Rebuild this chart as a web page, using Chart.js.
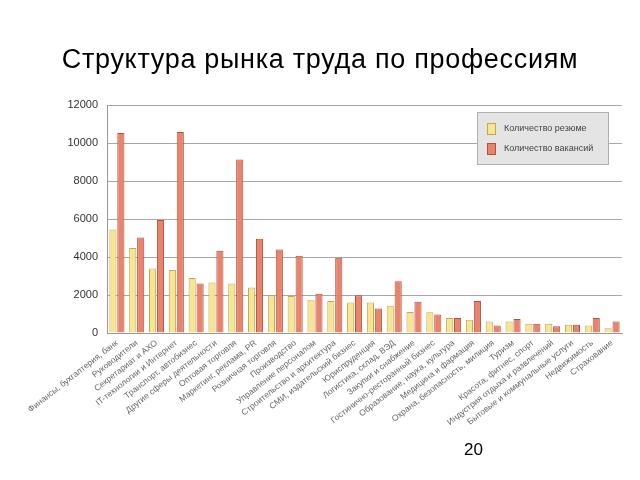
<!DOCTYPE html>
<html>
<head>
<meta charset="utf-8">
<script src="https://cdn.jsdelivr.net/npm/chart.js@4"></script>
<style>
  body { margin: 0; background: #fff; }
  #wrap { position: relative; width: 640px; height: 480px; }
  #title { position: absolute; left: 0; top: 46px; width: 640px; text-align: center;
           font: 27px/27px "Liberation Sans", Arial, sans-serif; letter-spacing: 0.7px; color: #000; }
  #pageNo { position: absolute; left: 464px; top: 441px; font: 17px/17px "Liberation Sans", Arial, sans-serif; color: #000; }
</style>
</head>
<body>
<div id="wrap">
  <canvas id="chart" width="640" height="480"></canvas>
  <div id="title">Структура рынка труда по профессиям</div>
  <div id="pageNo">20</div>
</div>
<script>
// профессии
var categories = [
    'Финансы, бухгалтерия, банк', 'Руководители', 'Секретариат и АХО', 'IT-технологии и Интернет',
    'Транспорт, автобизнес', 'Другие сферы деятельности', 'Оптовая торговля', 'Маркетинг, реклама, PR',
    'Розничная торговля', 'Производство', 'Управление персоналом', 'Строительство и архитектура',
    'СМИ, издательский бизнес', 'Юриспруденция', 'Логистика, склад, ВЭД', 'Закупки и снабжение',
    'Гостинично-ресторанный бизнес', 'Образование, наука, культура', 'Медицина и фармация',
    'Охрана, безопасность, милиция', 'Туризм', 'Красота, фитнес, спорт', 'Индустрия отдыха и развлечений',
    'Бытовые и коммунальные услуги', 'Недвижимость', 'Страхование'
];
var resumes = [5450, 4470, 3400, 3310, 2900, 2660, 2600, 2390, 1990, 1950, 1720, 1690, 1600, 1600,
    1430, 1110, 1090, 790, 700, 600, 600, 490, 490, 440, 400, 250];
var vacancies = [10530, 5020, 5950, 10580, 2600, 4330, 9130, 4960, 4400, 4070, 2060, 3960, 1990, 1285,
    2730, 1650, 970, 790, 1690, 400, 740, 490, 350, 440, 790, 600];
var yTicks = [0, 2000, 4000, 6000, 8000, 10000, 12000];

var legendBox = {
    id: 'legendBox',
    afterDraw: function(chart){
        var ctx = chart.ctx;
        var x = 477, y = 112, w = 131, h = 52;
        ctx.save();
        ctx.fillStyle = '#e4e4e4';
        ctx.strokeStyle = '#b0b0b0';
        ctx.lineWidth = 1;
        ctx.fillRect(x, y, w, h);
        ctx.strokeRect(x + 0.5, y + 0.5, w, h);
        ctx.font = '9px "Liberation Sans", Arial, sans-serif';
        ctx.textBaseline = 'middle';
        chart.data.datasets.forEach(function(ds, i){
            var ry = y + 17 + i * 20;
            ctx.fillStyle = ds.backgroundColor;
            ctx.strokeStyle = ds.borderColor;
            ctx.fillRect(x + 10, ry - 6, 9, 12);
            ctx.strokeRect(x + 10.5, ry - 5.5, 8, 11);
            ctx.fillStyle = '#444';
            ctx.fillText(ds.label, x + 27, ry);
        });
        ctx.restore();
    }
};

new Chart(document.getElementById('chart'), {
    type: 'bar',
    data: {
        labels: categories,
        datasets: [{
            label: 'Количество резюме',
            data: resumes,
            backgroundColor: '#f6e592',
            borderColor: '#c4a850',
            borderWidth: 1
        }, {
            label: 'Количество вакансий',
            data: vacancies,
            backgroundColor: '#e8836c',
            borderColor: '#b4503c',
            borderWidth: 1
        }]
    },
    options: {
        responsive: false,
        animation: false,
        layout: { padding: { left: 0, right: 18, top: 105, bottom: 0 } },
        plugins: {
            legend: { display: false },
            tooltip: { enabled: false },
            title: { display: false }
        },
        scales: {
            x: {
                grid: { display: false, drawTicks: false },
                border: { color: '#999' },
                categoryPercentage: 0.8,
                barPercentage: 1.0,
                ticks: {
                    autoSkip: false,
                    minRotation: 38,
                    maxRotation: 38,
                    color: '#666',
                    padding: 5,
                    font: { family: '"Liberation Sans", Arial, sans-serif', size: 8.5 }
                },
                afterFit: function(scale){ scale.height = 147; scale.paddingLeft = 0; }
            },
            y: {
                min: 0,
                max: 12000,
                afterBuildTicks: function(scale){ scale.ticks = yTicks.map(function(v){ return { value: v }; }); },
                grid: { color: '#a8a8a8', drawTicks: false },
                border: { color: '#999' },
                ticks: {
                    color: '#333',
                    padding: 9,
                    callback: function(v){ return String(v); },
                    font: { family: '"Liberation Sans", Arial, sans-serif', size: 11 }
                },
                afterFit: function(scale){ scale.width = 107; }
            }
        }
    },
    plugins: [legendBox]
});
</script>
</body>
</html>
